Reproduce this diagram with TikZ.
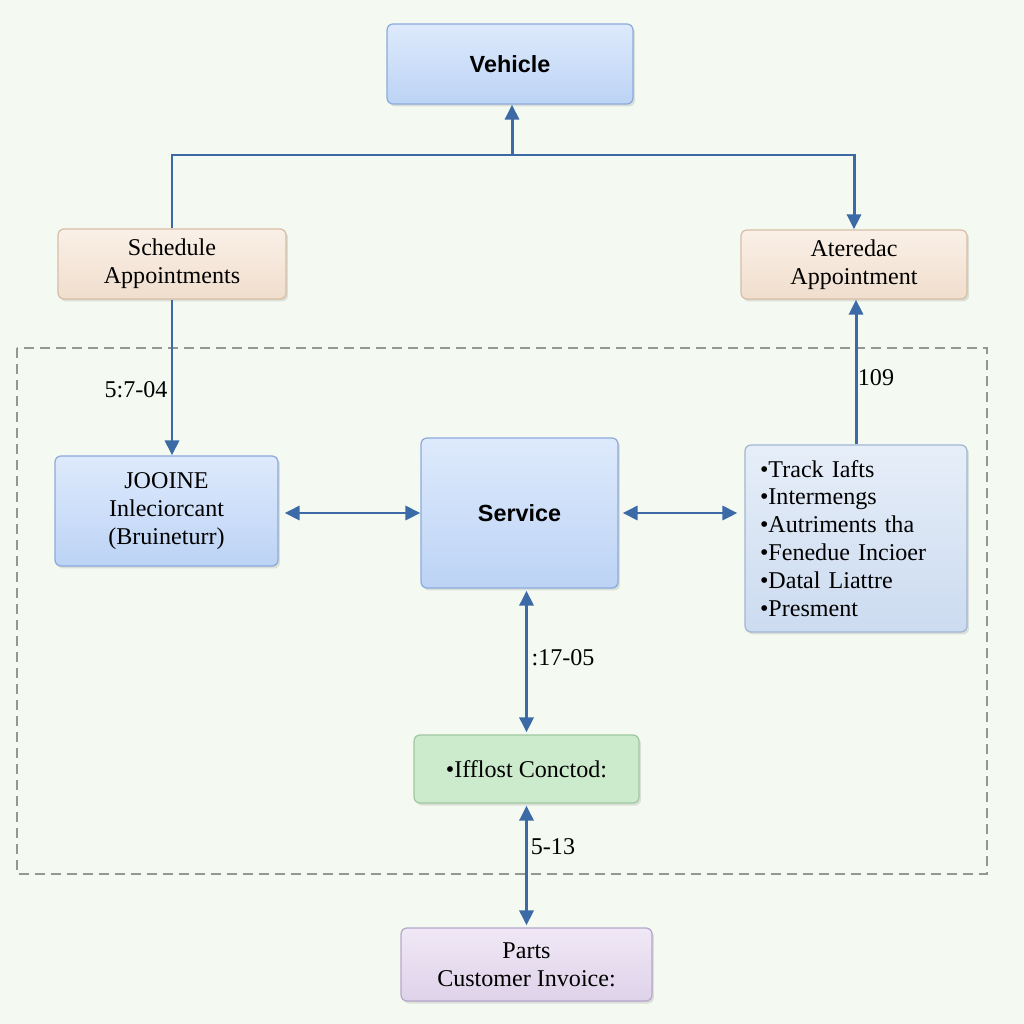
\documentclass[tikz,border=0pt]{standalone}
\usepackage{fontspec}
\setmainfont{Liberation Serif}
\setsansfont{Liberation Sans}
\usetikzlibrary{arrows.meta,shadows}

\definecolor{bgcol}{RGB}{244,250,242}
\definecolor{linecol}{RGB}{59,106,166}
\definecolor{framecol}{RGB}{150,150,150}
\definecolor{bluetop}{RGB}{222,234,252}
\definecolor{bluebot}{RGB}{188,211,245}
\definecolor{blueline}{RGB}{140,170,220}
\definecolor{peachtop}{RGB}{250,240,231}
\definecolor{peachbot}{RGB}{240,222,205}
\definecolor{peachline}{RGB}{215,190,165}
\definecolor{greytop}{RGB}{230,238,248}
\definecolor{greybot}{RGB}{204,219,240}
\definecolor{greyline}{RGB}{160,182,212}
\definecolor{greenfill}{RGB}{204,234,204}
\definecolor{greenline}{RGB}{160,200,160}
\definecolor{lilactop}{RGB}{240,232,246}
\definecolor{lilacbot}{RGB}{222,210,233}
\definecolor{lilacline}{RGB}{182,166,202}

\tikzset{
  box/.style={draw, rounded corners=0.12cm, line width=0.7pt, align=center,
    font=\fontsize{13.7}{15.9}\selectfont,
    drop shadow={shadow xshift=0.04cm, shadow yshift=-0.05cm, opacity=0.22}},
  bluebox/.style={box, draw=blueline, top color=bluetop, bottom color=bluebot},
  peachbox/.style={box, draw=peachline, top color=peachtop, bottom color=peachbot},
  greybox/.style={box, draw=greyline, top color=greytop, bottom color=greybot},
  greenbox/.style={box, draw=greenline, fill=greenfill},
  lilacbox/.style={box, draw=lilacline, top color=lilactop, bottom color=lilacbot},
  titlefont/.style={font=\sffamily\bfseries\fontsize{13.3}{16}\selectfont},
  conn/.style={draw=linecol, line width=1.7pt},
  arr/.style={conn, -{Triangle[length=0.3cm, width=0.28cm]}},
  dblarr/.style={conn, {Triangle[length=0.3cm, width=0.28cm]}-{Triangle[length=0.3cm, width=0.28cm]}},
  lab/.style={font=\fontsize{13.7}{16}\selectfont}
}

\begin{document}
\begin{tikzpicture}[x=0.02cm, y=-0.02cm]
    \fill[bgcol] (0,0) rectangle (1024,1024);
    \useasboundingbox (0,0) rectangle (1024,1024);

    % dashed frame
    \draw[framecol, line width=1.1pt, dash pattern=on 0.2cm off 0.12cm] (17,348) rectangle (987,874);

    % boxes
    \node[bluebox, titlefont, minimum width=4.92cm, minimum height=1.6cm] (vehicle) at (510,64) {Vehicle};
    \node[peachbox, minimum width=4.56cm, minimum height=1.4cm] (sched) at (172,264) {Schedule\\Appointments};
    \node[peachbox, minimum width=4.52cm, minimum height=1.38cm] (appt) at (854,264.5) {Ateredac\\Appointment};
    \node[bluebox, minimum width=4.46cm, minimum height=2.2cm] (joo) at (166.5,511) {JOOINE\\Inleciorcant\\(Bruineturr)};
    \node[bluebox, titlefont, minimum width=3.94cm, minimum height=3.0cm] (service) at (519.5,513) {Service};
    \node[greybox, minimum width=4.44cm, minimum height=3.74cm, text width=3.84cm, align=left] (tasks) at (856,538.5)
      {•Track Iafts\\•Intermengs\\•Autriments tha\\•Fenedue Incioer\\•Datal Liattre\\•Presment};
    \node[greenbox, minimum width=4.5cm, minimum height=1.36cm] (check) at (526.5,769) {•Ifflost Conctod:};
    \node[lilacbox, minimum width=5.02cm, minimum height=1.46cm] (parts) at (526.5,964.5) {Parts\\Customer Invoice:};

    % top tree
    \coordinate (junc) at (512,155);
    \draw[arr] (sched.north) |- (junc) -| (appt.north);
    \draw[arr] (junc) -- (junc |- vehicle.south);

    % vertical links
    \draw[arr] (sched.south) -- (sched.south |- joo.north);
    \draw[arr] (tasks.north) -- (tasks.north |- appt.south);

    % two-way links
    \draw[dblarr, shorten <=0.12cm] (service.west -| joo.east) -- (service.west);
    \draw[dblarr, shorten <=0.08cm, shorten >=0.14cm] (service.east) -- (service.east -| tasks.west);
    \draw[dblarr, shorten <=0.04cm, shorten >=0.04cm] (service.south -| check.north) -- (check.north);
    \draw[dblarr, shorten <=0.04cm, shorten >=0.04cm] (check.south) -- (parts.north);

    % labels
    \node[lab] (l1) at (136,390) {5:7-04};
    \node[lab] (l2) at (876,378) {109};
    \node[lab] (l3) at (563,658) {:17-05};
    \node[lab] (l4) at (553,847) {5-13};
\end{tikzpicture}
\end{document}
